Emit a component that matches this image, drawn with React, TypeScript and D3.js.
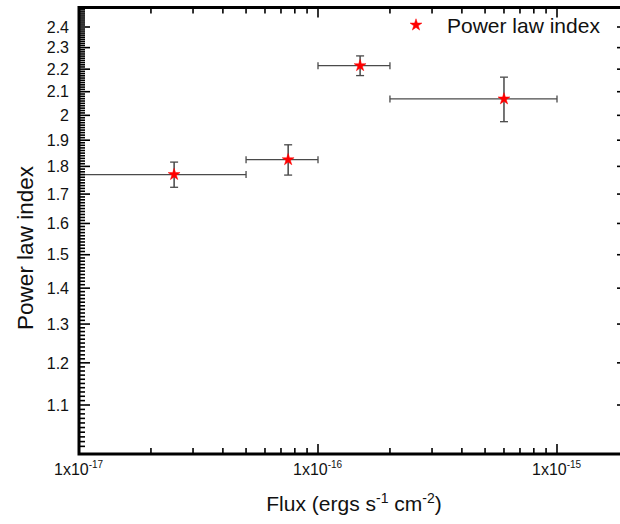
import React from "react";
import * as d3 from "d3";

const fluxCenter = [2.5e-17, 7.5e-17, 1.5e-16, 6.0e-16];
const fluxLow = [1.0e-17, 5.0e-17, 1.0e-16, 2.0e-16];
const fluxHigh = [5.0e-17, 1.0e-16, 2.0e-16, 1.0e-15];
const indexValue = [1.77, 1.825, 2.216, 2.069];
const indexErr = [0.046, 0.057, 0.045, 0.095];

const yTickValues = [1.1, 1.2, 1.3, 1.4, 1.5, 1.6, 1.7, 1.8, 1.9, 2.0, 2.1, 2.2, 2.3, 2.4];
const yTickLabels = ["1.1", "1.2", "1.3", "1.4", "1.5", "1.6", "1.7", "1.8", "1.9", "2", "2.1", "2.2", "2.3", "2.4"];
const xMajorValues = [1e-17, 1e-16, 1e-15];
const xMajorExps = ["-17", "-16", "-15"];
const seriesName = "Power law index";

const W = 620;
const H = 524;
const FL = 79;
const FR = 622;
const FT = 7.5;
const FB = 454;
const font = "'Liberation Sans', Arial, sans-serif";

export default function App() {
  const x = d3.scaleLog().domain([1e-17, 1e-15]).range([FL, 557]);
  const y = d3.scaleLog().domain([1.1, 2.4]).range([405, 27]);
  const xMax = x.invert(FR);
  const yMin = y.invert(FB);
  const yMax = y.invert(FT);

  const xMinor: number[] = [];
  for (let e = -17; e <= -15; e++) {
    for (let m = 2; m <= 9; m++) {
      const v = m * Math.pow(10, e);
      if (v <= xMax) xMinor.push(v);
    }
  }
  const yMinor: number[] = [];
  for (let i = 100; i <= 250; i++) {
    const v = i / 100;
    if (v >= yMin && v <= yMax && i % 10 !== 0) yMinor.push(v);
  }
  const star = d3.symbol().type(d3.symbolStar).size(44)()!;

  return (
    <svg width={W} height={H} style={{ position: "absolute", left: 0, top: 0, background: "#fff" }}>
      {/* error bars */}
      {fluxCenter.map((fc, i) => {
        const cx = x(fc);
        const cy = y(indexValue[i]);
        const x1 = x(fluxLow[i]);
        const x2 = x(fluxHigh[i]);
        const y1 = y(indexValue[i] + indexErr[i]);
        const y2 = y(indexValue[i] - indexErr[i]);
        return (
          <g key={i} stroke="#4a4a4a" strokeWidth={1.3} fill="none">
            <line x1={x1} x2={x2} y1={cy} y2={cy} />
            <line x1={x1} x2={x1} y1={cy - 3.5} y2={cy + 3.5} />
            <line x1={x2} x2={x2} y1={cy - 3.5} y2={cy + 3.5} />
            <line x1={cx} x2={cx} y1={y1} y2={y2} stroke="#2a2a2a" />
            <line x1={cx - 4} x2={cx + 4} y1={y1} y2={y1} />
            <line x1={cx - 4} x2={cx + 4} y1={y2} y2={y2} />
          </g>
        );
      })}
      {fluxCenter.map((fc, i) => (
        <path key={"s" + i} d={star} transform={`translate(${x(fc)},${y(indexValue[i])})`} fill="#ff0000" stroke="#ff0000" strokeWidth={0.5} />
      ))}

      {/* ticks */}
      <g stroke="#000" strokeWidth={1.6}>
        {yMinor.map((v, i) => (
          <line key={"ym" + i} x1={FL} x2={FL + 6} y1={y(v)} y2={y(v)} />
        ))}
        {yTickValues.map((v, i) => (
          <line key={"yM" + i} x1={FL} x2={FL + 11} y1={y(v)} y2={y(v)} />
        ))}
        {yTickValues.map((v, i) => (
          <line key={"yR" + i} x1={FR} x2={FR - 5} y1={y(v)} y2={y(v)} />
        ))}
        {xMinor.map((v, i) => (
          <g key={"xm" + i}>
            <line x1={x(v)} x2={x(v)} y1={FB} y2={FB - 6} />
            <line x1={x(v)} x2={x(v)} y1={FT} y2={FT + 6} />
          </g>
        ))}
        {xMajorValues.map((v, i) => (
          <g key={"xM" + i}>
            <line x1={x(v)} x2={x(v)} y1={FB} y2={FB - 10} />
            <line x1={x(v)} x2={x(v)} y1={FT} y2={FT + 10} />
          </g>
        ))}
      </g>

      {/* frame */}
      <rect x={FL} y={FT} width={FR - FL} height={FB - FT} fill="none" stroke="#000" strokeWidth={3} />

      {/* y tick labels */}
      <g fontFamily={font} fontSize={16} fill="#111" textAnchor="end">
        {yTickValues.map((v, i) => (
          <text key={"yl" + i} x={69} y={y(v)} dy="0.36em">
            {yTickLabels[i]}
          </text>
        ))}
      </g>
      {/* x tick labels */}
      <g fontFamily={font} fontSize={16} fill="#111">
        {xMajorValues.map((v, i) => (
          <text key={"xl" + i} x={x(v) - 25} y={475}>
            1x10
            <tspan fontSize={10} dy={-7}>
              {xMajorExps[i]}
            </tspan>
          </text>
        ))}
      </g>

      {/* axis titles */}
      <text fontFamily={font} fontSize={21} fill="#111" x={354} y={511} textAnchor="middle">
        Flux (ergs s<tspan fontSize={14} dy={-8}>-1</tspan>
        <tspan dy={8}> cm</tspan>
        <tspan fontSize={14} dy={-8}>-2</tspan>
        <tspan dy={8}>)</tspan>
      </text>
      <text fontFamily={font} fontSize={22.5} fill="#111" transform="translate(33,248) rotate(-90)" textAnchor="middle">
        Power law index
      </text>

      {/* legend */}
      <path d={star} transform="translate(416,25)" fill="#ff0000" stroke="#ff0000" strokeWidth={0.5} />
      <text fontFamily={font} fontSize={21} fill="#111" x={447} y={32.5}>
        {seriesName}
      </text>
    </svg>
  );
}
